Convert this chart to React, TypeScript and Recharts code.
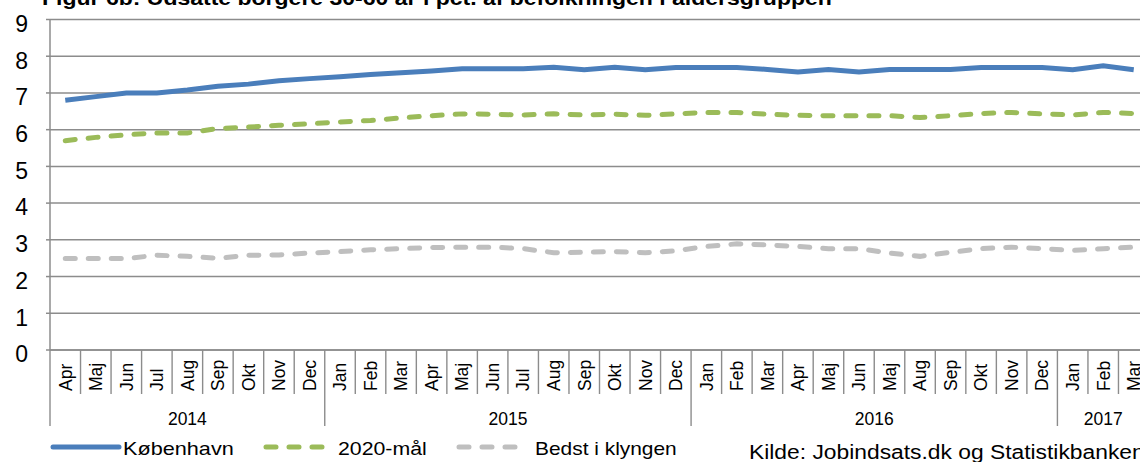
import React from 'react';
import { LineChart, Line, XAxis, YAxis, CartesianGrid } from 'recharts';

const months = [
  'Apr', 'Maj', 'Jun', 'Jul', 'Aug', 'Sep', 'Okt', 'Nov', 'Dec',
  'Jan', 'Feb', 'Mar', 'Apr', 'Maj', 'Jun', 'Jul', 'Aug', 'Sep', 'Okt', 'Nov', 'Dec',
  'Jan', 'Feb', 'Mar', 'Apr', 'Maj', 'Jun', 'Maj', 'Aug', 'Sep', 'Okt', 'Nov', 'Dec',
  'Jan', 'Feb', 'Mar',
];
const years = [
  '2014', '2014', '2014', '2014', '2014', '2014', '2014', '2014', '2014',
  '2015', '2015', '2015', '2015', '2015', '2015', '2015', '2015', '2015', '2015', '2015', '2015',
  '2016', '2016', '2016', '2016', '2016', '2016', '2016', '2016', '2016', '2016', '2016', '2016',
  '2017', '2017', '2017',
];
const kobenhavn = [
  6.8, 6.9, 7.0, 7.0, 7.08, 7.18, 7.24, 7.33, 7.39,
  7.44, 7.5, 7.55, 7.6, 7.66, 7.66, 7.66, 7.7, 7.63, 7.7, 7.63, 7.69,
  7.69, 7.69, 7.64, 7.57, 7.64, 7.57, 7.64, 7.64, 7.64, 7.69, 7.69, 7.69,
  7.63, 7.74, 7.63,
];
const maal2020 = [
  5.7, 5.79, 5.86, 5.91, 5.91, 6.03, 6.07, 6.12, 6.16,
  6.21, 6.25, 6.32, 6.38, 6.43, 6.42, 6.4, 6.43, 6.4, 6.42, 6.39, 6.43,
  6.47, 6.47, 6.42, 6.39, 6.38, 6.38, 6.38, 6.33, 6.38, 6.44, 6.47, 6.43,
  6.4, 6.47, 6.44,
];
const bedstIKlyngen = [
  2.49, 2.49, 2.49, 2.58, 2.55, 2.5, 2.58, 2.59, 2.64,
  2.68, 2.73, 2.76, 2.79, 2.8, 2.8, 2.76, 2.65, 2.66, 2.68, 2.65, 2.7,
  2.82, 2.89, 2.86, 2.82, 2.76, 2.76, 2.64, 2.55, 2.66, 2.76, 2.8, 2.76,
  2.71, 2.76, 2.8,
];
const yTicks = [0, 1, 2, 3, 4, 5, 6, 7, 8, 9];

const data = months.map((m, i) => ({
  idx: i,
  month: m,
  kbh: kobenhavn[i],
  maal: maal2020[i],
  bedst: bedstIKlyngen[i],
}));

const FONT = '"Liberation Sans", Arial, sans-serif';
const GRID = '#8c8c8c';
const BLUE = '#4a7ebb';
const GREEN = '#9bbb59';
const GREY = '#bfbfbf';

const PLOT_LEFT = 50;
const CHART_W = 1149;
const BAND = (CHART_W - PLOT_LEFT) / months.length;
const TOP = 19.5;
const AXIS_Y = 350;
const DASH = '10 13';

const MonthTick = (props: any) => {
  const { x, payload } = props;
  const i: number = Number(payload.value);
  const left = x - BAND / 2;
  const yr = years[i];
  const yearStart = i === 0 || years[i - 1] !== yr;
  const count = years.filter((v) => v === yr).length;
  return (
    <g>
      <line
        x1={left}
        x2={left}
        y1={AXIS_Y}
        y2={yearStart ? AXIS_Y + 76 : AXIS_Y + 44}
        stroke={GRID}
        strokeWidth={1.4}
      />
      <text
        transform={`translate(${x},${AXIS_Y + 41}) rotate(-90)`}
        dy="0.36em"
        textAnchor="start"
        fontSize={17.5}
        fontFamily={FONT}
        fill="#000"
      >
        {months[i]}
      </text>
      {yearStart && (
        <text
          x={left + (count * BAND) / 2}
          y={AXIS_Y + 75}
          textAnchor="middle"
          fontSize={17.5}
          fontFamily={FONT}
          fill="#000"
        >
          {yr}
        </text>
      )}
    </g>
  );
};

const ValueTick = (props: any) => {
  const { y, payload } = props;
  return (
    <text x={28} y={y + 4} dy="0.36em" textAnchor="end" fontSize={23} fontFamily={FONT} fill="#000">
      {payload.value}
    </text>
  );
};

const Sample = ({ x, w, color, dashed }: { x: number; w: number; color: string; dashed?: boolean }) => (
  <svg width={w} height={10} style={{ position: 'absolute', left: x, top: 442 }}>
    <line
      x1={3}
      x2={w - 3}
      y1={5}
      y2={5}
      stroke={color}
      strokeWidth={5}
      strokeLinecap="round"
      strokeDasharray={dashed ? DASH : undefined}
    />
  </svg>
);

const WideText = ({ x, top, size, scale, children, bold }: any) => (
  <div
    style={{
      position: 'absolute',
      left: x,
      top,
      fontSize: size,
      lineHeight: `${size}px`,
      fontWeight: bold ? 'bold' : 'normal',
      whiteSpace: 'nowrap',
      transform: `scaleX(${scale})`,
      transformOrigin: 'left top',
    }}
  >
    {children}
  </div>
);

export default function App() {
  return (
    <div
      style={{
        position: 'fixed',
        top: 0,
        left: 0,
        width: 1140,
        height: 462,
        overflow: 'hidden',
        background: '#fff',
        fontFamily: FONT,
        color: '#000',
      }}
    >
      <WideText x={42} top={-12} size={20} scale={1.15} bold>
        Figur 6b: Udsatte borgere 30-60 år i pct. af befolkningen i aldersgruppen
      </WideText>
      <div style={{ position: 'absolute', left: 0, top: 0 }}>
        <LineChart
          width={CHART_W}
          height={462}
          data={data}
          margin={{ top: TOP, right: 0, left: 0, bottom: 0 }}
        >
          <CartesianGrid horizontal vertical={false} stroke={GRID} strokeWidth={1.5} />
          <XAxis
            dataKey="idx"
            type="number"
            domain={[-0.5, months.length - 0.5]}
            ticks={data.map((d) => d.idx)}
            interval={0}
            height={462 - AXIS_Y}
            tickLine={false}
            axisLine={{ stroke: GRID, strokeWidth: 1.5 }}
            tick={<MonthTick />}
          />
          <YAxis
            domain={[0, 9]}
            ticks={yTicks}
            width={PLOT_LEFT}
            tickSize={4}
            axisLine={{ stroke: GRID, strokeWidth: 1.5 }}
            tickLine={{ stroke: GRID, strokeWidth: 1.5 }}
            tick={<ValueTick />}
          />
          <Line
            dataKey="bedst"
            stroke={GREY}
            strokeWidth={5}
            strokeDasharray={DASH}
            strokeLinecap="round"
            dot={false}
            isAnimationActive={false}
          />
          <Line
            dataKey="maal"
            stroke={GREEN}
            strokeWidth={5}
            strokeDasharray={DASH}
            strokeLinecap="round"
            dot={false}
            isAnimationActive={false}
          />
          <Line
            dataKey="kbh"
            stroke={BLUE}
            strokeWidth={5}
            dot={false}
            isAnimationActive={false}
          />
        </LineChart>
      </div>
      <Sample x={50} w={72} color={BLUE} />
      <WideText x={123} top={439} size={19} scale={1.14}>København</WideText>
      <Sample x={263} w={68} color={GREEN} dashed />
      <WideText x={338} top={439} size={19} scale={1.12}>2020-mål</WideText>
      <Sample x={456} w={68} color={GREY} dashed />
      <WideText x={535} top={439} size={19} scale={1.1}>Bedst i klyngen</WideText>
      <WideText x={749} top={443} size={19.5} scale={1.17}>
        Kilde: Jobindsats.dk og Statistikbanken
      </WideText>
    </div>
  );
}
